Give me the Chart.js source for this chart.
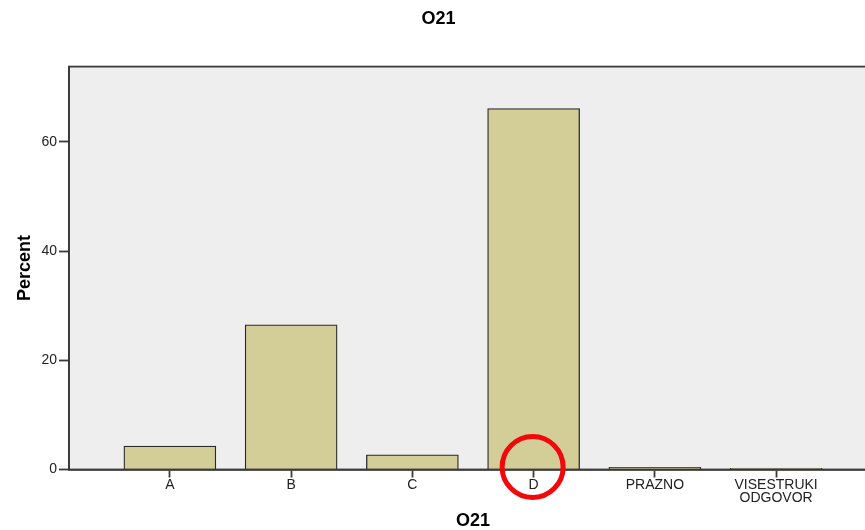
<!DOCTYPE html>
<html>
<head>
<meta charset="utf-8">
<script src="https://cdn.jsdelivr.net/npm/chart.js@4.4.1/dist/chart.umd.min.js"></script>
<style>
  html, body { margin: 0; padding: 0; overflow: hidden; background: #fff; }
</style>
</head>
<body>
<canvas id="chart" width="882" height="530"></canvas>
<script>
// values (percent of answers)
const categories = ['A', 'B', 'C', 'D', 'PRAZNO', ['VISESTRUKI', 'ODGOVOR']];
const percents = [4.3, 26.5, 2.7, 66.1, 0.4, 0.2];
const yTicks = [0, 20, 40, 60];
const markedIndex = 3; // the circled answer (D)

Chart.defaults.font.family = '"Liberation Sans", Arial, sans-serif';
Chart.defaults.color = '#000';

const lineColor = '#3a3a3a';

// grey plot background + frame, like SPSS
const plotFrame = {
    id: 'plotFrame',
    beforeDraw(chart) {
        const a = chart.chartArea;
        const ctx = chart.ctx;
        ctx.save();
        ctx.fillStyle = '#eeeeee';
        ctx.fillRect(a.left, a.top, a.right - a.left, a.bottom - a.top);
        ctx.restore();
    },
    afterDraw(chart) {
        const a = chart.chartArea;
        const ctx = chart.ctx;
        ctx.save();
        ctx.strokeStyle = lineColor;
        ctx.lineWidth = 1.8;
        ctx.strokeRect(a.left, a.top, a.right - a.left, a.bottom - a.top);
        ctx.restore();
    }
};

// red circle drawn around the marked category label
const redCircle = {
    id: 'redCircle',
    afterDraw(chart) {
        const x = chart.scales.x.getPixelForValue(markedIndex) - 1;
        const y = chart.scales.y.getPixelForValue(0) - 2.5;
        const ctx = chart.ctx;
        ctx.save();
        ctx.beginPath();
        ctx.arc(x, y, 30.5, 0, Math.PI * 2);
        ctx.strokeStyle = '#f2080a';
        ctx.lineWidth = 5;
        ctx.stroke();
        ctx.restore();
    }
};

const ctx = document.getElementById('chart').getContext('2d');
new Chart(ctx, {
    type: 'bar',
    data: {
        datasets: [{
            label: 'Percent',
            data: percents.map((v, i) => ({ x: i, y: v })),
            backgroundColor: '#d3ce98',
            borderColor: '#2a2a2a',
            borderWidth: 1.3,
            barThickness: 92
        }]
    },
    options: {
        responsive: false,
        animation: false,
        layout: { padding: { left: 0, right: 5, top: 0, bottom: 0 } },
        plugins: {
            legend: { display: false },
            tooltip: { enabled: false },
            title: {
                display: true,
                text: 'O21',
                font: { size: 18, weight: 'bold', lineHeight: 1.2 },
                color: '#000',
                padding: { top: 8, bottom: 37 }
            }
        },
        scales: {
            x: {
                type: 'linear',
                offset: false,
                min: -0.832,
                max: 5.832,
                afterBuildTicks: (s) => { s.ticks = categories.map((c, i) => ({ value: i })); },
                afterFit: (s) => { s.height = 60.5; },
                ticks: {
                    autoSkip: false,
                    maxRotation: 0,
                    padding: 1,
                    color: '#222',
                    font: { size: 14, lineHeight: 0.95 },
                    callback: (value) => categories[value]
                },
                grid: {
                    offset: false,
                    drawOnChartArea: false,
                    drawTicks: true,
                    tickLength: 8,
                    tickWidth: 1.8,
                    color: lineColor
                },
                border: { display: true, color: lineColor, width: 1.8 },
                title: {
                    display: true,
                    text: 'O21',
                    font: { size: 18, weight: 'bold', lineHeight: 1 },
                    padding: { top: 0, bottom: 0 }
                }
            },
            y: {
                min: 0,
                max: 73.8,
                afterBuildTicks: (s) => { s.ticks = yTicks.map(v => ({ value: v })); },
                afterFit: (s) => { s.width = 69; },
                ticks: {
                    padding: 2,
                    color: '#222',
                    font: { size: 14 }
                },
                grid: {
                    drawOnChartArea: false,
                    drawTicks: true,
                    tickLength: 10,
                    tickWidth: 1.8,
                    color: lineColor
                },
                border: { display: true, color: lineColor, width: 1.8 },
                title: {
                    display: true,
                    text: 'Percent',
                    font: { size: 18, weight: 'bold', lineHeight: 1 },
                    padding: { top: 16, bottom: 0 }
                }
            }
        }
    },
    plugins: [plotFrame, redCircle]
});
</script>
</body>
</html>
